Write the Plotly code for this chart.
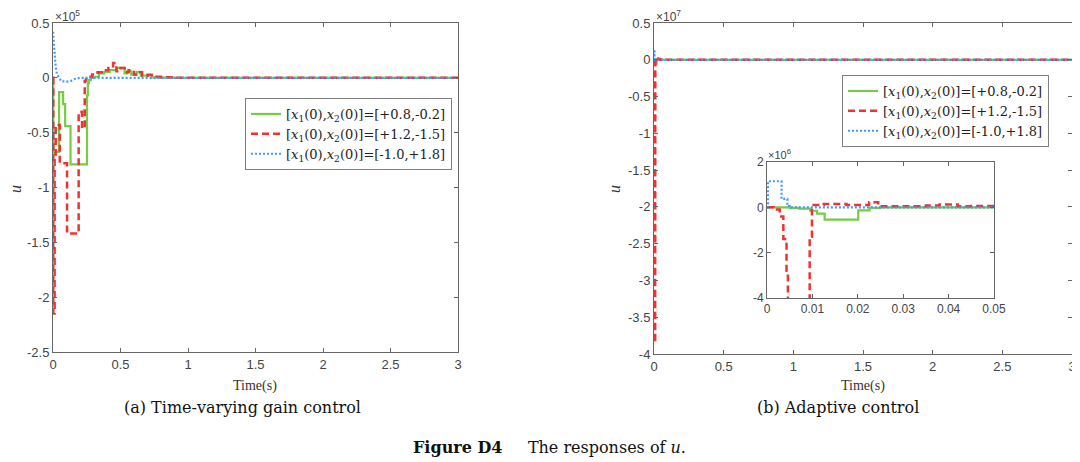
import plotly.graph_objects as go

# (a) time-varying gain control, u in units of 1e5
ta_green = [0, 0.002, 0.045, 0.075, 0.09, 0.13, 0.252, 0.258, 0.265, 0.28, 0.3, 0.34,
            0.38, 0.42, 0.47, 0.53, 0.55, 0.58, 0.62, 0.65, 0.7, 0.73, 0.78, 0.85, 3]
ua_green = [0, -0.675, -0.13, -0.24, -0.44, -0.79, -0.16, -0.05, -0.02, 0.0, 0.01, 0.04,
            0.055, 0.07, 0.09, 0.04, 0.06, 0.03, 0.055, 0.02, 0.03, 0.005, 0.002, 0, 0]
ta_red = [0, 0.002, 0.012, 0.02, 0.05, 0.104, 0.19, 0.215, 0.235, 0.245, 0.26, 0.29, 0.33,
          0.37, 0.41, 0.445, 0.47, 0.5, 0.53, 0.56, 0.6, 0.63, 0.66, 0.7, 0.75, 0.8, 0.9, 3]
ua_red = [0, -2.15, -0.7, -0.43, -0.78, -1.42, -0.31, -0.46, -0.03, -0.01, 0.01, 0.03, 0.05,
          0.07, 0.09, 0.135, 0.06, 0.09, 0.05, 0.07, 0.03, 0.05, 0.02, 0.025, 0.01, 0.005, 0, 0]
ta_blue = [0, 0.005, 0.012, 0.02, 0.03, 0.045, 0.06, 0.1, 0.13, 0.16, 0.2, 3]
ua_blue = [0.42, 0.36, 0.22, 0.1, 0.03, 0.0, -0.03, -0.035, -0.03, -0.01, 0, 0]

# (b) adaptive control, u in units of 1e6
tb_green = [0, 0.005, 0.007, 0.0095, 0.011, 0.0127, 0.0201, 0.0226, 0.025, 3]
ub_green = [0, -0.02, -0.06, -0.15, -0.28, -0.54, -0.13, -0.02, 0, 0]
tb_red = [0, 0.0015, 0.0028, 0.0036, 0.0043, 0.0046, 0.0055, 0.0065, 0.0075, 0.0085,
          0.009, 0.0094, 0.0099, 0.0125, 0.0175, 0.0225, 0.0245, 0.03, 0.035, 0.038,
          0.042, 0.045, 0.05, 3]
ub_red = [0, -0.1, -0.4, -1.4, -2.8, -8, -20, -32, -38.5, -25, -8, -1.3, 0.1, 0.15, 0.1,
          0.22, 0.05, 0.05, 0.08, 0.12, 0.05, 0.06, 0.0, 0]
tb_blue = [0, 0.0002, 0.0032, 0.0045, 0.005, 3]
ub_blue = [0, 1.15, 0.37, 0.05, 0, 0]

names = ["[<i>x</i><sub>1</sub>(0),<i>x</i><sub>2</sub>(0)]=[+0.8,-0.2]",
         "[<i>x</i><sub>1</sub>(0),<i>x</i><sub>2</sub>(0)]=[+1.2,-1.5]",
         "[<i>x</i><sub>1</sub>(0),<i>x</i><sub>2</sub>(0)]=[-1.0,+1.8]"]

x_ticks = [0, 0.5, 1, 1.5, 2, 2.5, 3]
x_ticktext = ["0", "0.5", "1", "1.5", "2", "2.5", "3"]
ya_ticks = [0.5, 0, -0.5, -1, -1.5, -2, -2.5]
ya_ticktext = ["0.5", "0", "-0.5", "-1", "-1.5", "-2", "-2.5"]
yb_ticks = [0.5, 0, -0.5, -1, -1.5, -2, -2.5, -3, -3.5, -4]
yb_ticktext = ["0.5", "0", "-0.5", "-1", "-1.5", "-2", "-2.5", "-3", "-3.5", "-4"]
xi_ticks = [0, 0.01, 0.02, 0.03, 0.04, 0.05]
xi_ticktext = ["0", "0.01", "0.02", "0.03", "0.04", "0.05"]
yi_ticks = [2, 0, -2, -4]
yi_ticktext = ["2", "0", "-2", "-4"]

GREEN = "#77CC44"
RED = "#EE3333"
BLUE = "#4499FF"
styles = [
    dict(color=GREEN, width=2.2),
    dict(color=RED, width=2.5, dash="7px,4px"),
    dict(color=BLUE, width=2.2, dash="2px,2px"),
]
shapes_a = ["hv", "hv", "linear"]
shapes_b = ["hv", "hv", "hv"]

# the page body has an 8px margin, so the figure is drawn 8px in from the corner
OFF = 8
W, H = 1080 - OFF, 462 - OFF


def px(x):
    return (x - OFF) / W


def py(y):
    return 1 - (y - OFF) / H


fig = go.Figure()

left = [(ta_green, ua_green), (ta_red, ua_red), (ta_blue, ua_blue)]
for (t, u), st, nm, sh in zip(left, styles, names, shapes_a):
    fig.add_trace(go.Scatter(x=t, y=u, mode="lines", line=dict(**st, shape=sh), name=nm,
                             xaxis="x", yaxis="y", legend="legend"))

right = [(tb_green, ub_green), (tb_red, ub_red), (tb_blue, ub_blue)]
for (t, u), st, nm, sh in zip(right, styles, names, shapes_b):
    fig.add_trace(go.Scatter(x=t, y=[v / 10 for v in u], mode="lines",
                             line=dict(**st, shape=sh), name=nm,
                             xaxis="x2", yaxis="y2", legend="legend2"))
# zoomed inset of the first 0.05 s
for (t, u), st, nm, sh in zip(right, styles, names, shapes_b):
    fig.add_trace(go.Scatter(x=t, y=u, mode="lines", line=dict(**st, shape=sh), name=nm,
                             xaxis="x3", yaxis="y3", showlegend=False))

AX_COLOR = "#666666"
SANS = "Liberation Sans, Arial, sans-serif"
TICK_FONT = dict(family=SANS, size=13, color="#444444")
common = dict(showline=True, linecolor=AX_COLOR, linewidth=1, mirror="ticks",
              ticks="inside", ticklen=4, tickcolor=AX_COLOR, showgrid=False,
              zeroline=False, tickfont=TICK_FONT, automargin=False)
inset = {**common, "tickfont": {**TICK_FONT, "size": 12}}

LEG_FONT = dict(family="DejaVu Serif, serif", size=13, color="#222")

fig.update_layout(
    template="none",
    width=W, height=H,
    margin=dict(l=0, r=0, t=0, b=0, autoexpand=False),
    paper_bgcolor="white", plot_bgcolor="white",
    xaxis=dict(domain=[px(53), px(458)], range=[0, 3], tickvals=x_ticks,
               ticktext=x_ticktext, anchor="y", **common),
    yaxis=dict(domain=[py(352), py(23)], range=[-2.5, 0.5], tickvals=ya_ticks,
               ticktext=ya_ticktext, anchor="x", **common),
    xaxis2=dict(domain=[px(654), px(1072)], range=[0, 3], tickvals=x_ticks,
                ticktext=x_ticktext, anchor="y2", **common),
    yaxis2=dict(domain=[py(354), py(23)], range=[-4, 0.5], tickvals=yb_ticks,
                ticktext=yb_ticktext, anchor="x2", **common),
    xaxis3=dict(domain=[px(767), px(994)], range=[0, 0.05], tickvals=xi_ticks,
                ticktext=xi_ticktext, anchor="y3", **inset),
    yaxis3=dict(domain=[py(298), py(162)], range=[-4, 2], tickvals=yi_ticks,
                ticktext=yi_ticktext, anchor="x3", **inset),
    legend=dict(x=px(452), y=py(98), xanchor="right", yanchor="top",
                bordercolor="#808080", borderwidth=1, bgcolor="white", font=LEG_FONT),
    legend2=dict(x=px(1049), y=py(75), xanchor="right", yanchor="top",
                 bordercolor="#808080", borderwidth=1, bgcolor="white", font=LEG_FONT),
    showlegend=True,
)

SERIF = "Liberation Serif, serif"
CAP = "DejaVu Serif, serif"
ann = [
    dict(x=px(53), y=py(16), text="×10<sup>5</sup>", xanchor="left",
         font=dict(family=SANS, size=12, color="#444")),
    dict(x=px(654), y=py(16), text="×10<sup>7</sup>", xanchor="left",
         font=dict(family=SANS, size=12, color="#444")),
    dict(x=px(766), y=py(154), text="×10<sup>6</sup>", xanchor="left",
         font=dict(family=SANS, size=11, color="#444")),
    dict(x=px(255), y=py(386), text="Time(s)", xanchor="center",
         font=dict(family=SERIF, size=14, color="#333")),
    dict(x=px(863), y=py(386), text="Time(s)", xanchor="center",
         font=dict(family=SERIF, size=14, color="#333")),
    dict(x=px(15), y=py(189), text="<i>u</i>", textangle=-90, xanchor="center",
         font=dict(family=SERIF, size=16, color="#333")),
    dict(x=px(614), y=py(189), text="<i>u</i>", textangle=-90, xanchor="center",
         font=dict(family=SERIF, size=16, color="#333")),
    dict(x=px(242), y=py(407), text="(a) Time-varying gain control", xanchor="center",
         font=dict(family=CAP, size=16, color="#111")),
    dict(x=px(838), y=py(407), text="(b) Adaptive control", xanchor="center",
         font=dict(family=CAP, size=16, color="#111")),
    dict(x=px(549), y=py(447), text="<b>Figure D4</b>     The responses of <i>u</i>.",
         xanchor="center", font=dict(family=CAP, size=16, color="#111")),
]
for a in ann:
    fig.add_annotation(xref="paper", yref="paper", showarrow=False, yanchor="middle", **a)

fig.write_html("out.html")
